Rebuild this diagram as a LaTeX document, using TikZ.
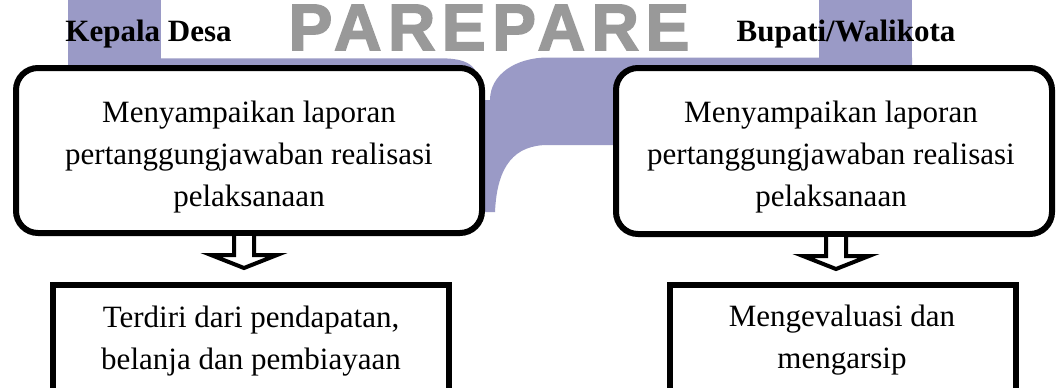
\documentclass[tikz,border=0pt]{standalone}
\usepackage{fontspec}
\setmainfont{Liberation Serif}
\newfontfamily\wmfont{Liberation Sans}[LetterSpace=10, BoldFeatures={FakeBold=2.5}]
\usetikzlibrary{calc}
\definecolor{lav}{RGB}{154,154,198}
\definecolor{wmgray}{RGB}{153,153,153}
\begin{document}
\begin{tikzpicture}[x=1pt,y=-1pt,
  every node/.style={inner sep=0pt, outer sep=0pt},
  roundbox/.style={draw, line width=6pt, rounded corners=22pt, fill=white},
  sqbox/.style={draw, line width=6pt, fill=white},
  body/.style={font=\fontsize{31}{42}\selectfont, align=center},
  head/.style={font=\fontsize{31}{36}\selectfont\bfseries},
  hollow/.style={draw, line width=4pt, fill=white, line join=miter},
  wmark/.style={fill=lav}
]
\useasboundingbox (0,0) rectangle (1057,388);
\fill[white] (0,0) rectangle (1057,388);
\clip (0,0) rectangle (1057,388);

% background watermark
\fill[wmark] (68,0) rectangle (161,70);
\fill[wmark] (68,58.3) -- (440,58.3) .. controls (460,58.3) and (470,62) .. (475,70) -- (68,70) -- cycle;
\fill[wmark] (819,0) rectangle (912,70);
\fill[wmark] (484,212) -- (484,100) -- (490,100) .. controls (490,75) and (515,57.5) .. (548,57.5)
  -- (912,57.5) -- (912,70) -- (640,70) -- (640,145) -- (548,145)
  .. controls (515,145) and (497,165) .. (495,212) -- cycle;
\node[anchor=base, text=wmgray, font=\wmfont\bfseries\fontsize{65.6}{70}\selectfont] (wm) at (489,50) {PAREPARE};

% headings
\node[head, anchor=base] (hl) at (148.5,41) {Kepala Desa};
\node[head, anchor=base] (hr) at (846,41) {Bupati/Walikota};

% boxes
\node[roundbox, minimum width=466pt, minimum height=165pt] (ltop) at (249,150.5) {};
\node[roundbox, minimum width=436pt, minimum height=166pt] (rtop) at (834,151) {};
\node[sqbox, minimum width=396pt, minimum height=140pt] (lbot) at (251,355) {};
\node[sqbox, minimum width=346pt, minimum height=140pt] (rbot) at (843,355) {};

% texts
\node[body, anchor=north] (ltopt) at (249,101) {Menyampaikan laporan\\pertanggungjawaban realisasi\\pelaksanaan};
\node[body, anchor=north] (rtopt) at (831,101) {Menyampaikan laporan\\pertanggungjawaban realisasi\\pelaksanaan};
\node[body, anchor=north] (lbott) at (251,306) {Terdiri dari pendapatan,\\belanja dan pembiayaan};
\node[body, anchor=north] (rbott) at (842,304.5) {Mengevaluasi dan\\mengarsip};

% hollow block arrows
\coordinate (la) at ($(ltop.south)+(-5,3)$);
\coordinate (ra) at ($(rtop.south)+(2,3)$);
\draw[hollow] ($(la)+(-10,0)$) -- ($(la)+(-10,19)$) -- ($(la)+(-33,19)$) -- ($(la)+(0,32)$)
  -- ($(la)+(33,19)$) -- ($(la)+(10,19)$) -- ($(la)+(10,0)$);
\draw[hollow] ($(ra)+(-10,0)$) -- ($(ra)+(-10,19)$) -- ($(ra)+(-33,19)$) -- ($(ra)+(0,32)$)
  -- ($(ra)+(33,19)$) -- ($(ra)+(10,19)$) -- ($(ra)+(10,0)$);
\end{tikzpicture}
\end{document}
